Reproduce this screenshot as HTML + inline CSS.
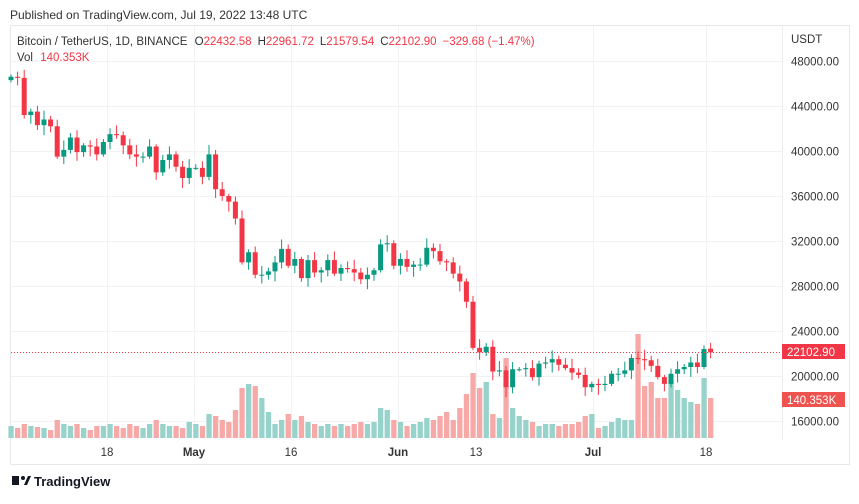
<!DOCTYPE html>
<html><head><meta charset="utf-8"><style>
body{margin:0;background:#fff;width:859px;height:499px;overflow:hidden;font-family:"Liberation Sans",sans-serif}
</style></head><body>
<svg id="s" width="859" height="499" xmlns="http://www.w3.org/2000/svg" font-family="Liberation Sans, sans-serif">
<text x="10" y="19" font-size="12" fill="#333">Published on TradingView.com, Jul 19, 2022 13:48 UTC</text>
<rect x="10.5" y="25.5" width="839" height="439" fill="none" stroke="#e8e8ec"/>
<line x1="782.5" y1="26" x2="782.5" y2="440" stroke="#ececec"/>
<g id="grid"></g>
<g id="vol"></g>
<g id="cdl"></g>
<line x1="11" y1="352.5" x2="782" y2="352.5" stroke="#f23645" stroke-dasharray="1,2" stroke-width="1"/>
<text x="17" y="45" font-size="11.5" fill="#333">Bitcoin / TetherUS, 1D, BINANCE <tspan dx="4">O</tspan><tspan fill="#f23645">22432.58</tspan><tspan dx="6">H</tspan><tspan fill="#f23645">22961.72</tspan><tspan dx="6">L</tspan><tspan fill="#f23645">21579.54</tspan><tspan dx="6">C</tspan><tspan fill="#f23645">22102.90</tspan><tspan dx="6" fill="#f23645">−329.68 (−1.47%)</tspan></text>
<text x="17" y="61" font-size="11.5" fill="#333">Vol <tspan dx="4" fill="#f23645">140.353K</tspan></text>
<text x="791" y="43" font-size="11.5" fill="#333">USDT</text>
<g id="ax" font-size="11.5" fill="#333"></g>
<rect x="782" y="344" width="63" height="15" fill="#f23645"/>
<text x="787" y="356" font-size="11.5" fill="#fff">22102.90</text>
<rect x="782" y="392" width="63" height="15" fill="#ef5350"/>
<text x="787" y="404" font-size="11.5" fill="#fff">140.353K</text>
<g font-size="11.5" fill="#333">
<text x="107" y="456" text-anchor="middle">18</text>
<text x="194" y="456" text-anchor="middle" font-weight="bold">May</text>
<text x="291" y="456" text-anchor="middle">16</text>
<text x="398" y="456" text-anchor="middle" font-weight="bold">Jun</text>
<text x="476" y="456" text-anchor="middle">13</text>
<text x="593" y="456" text-anchor="middle" font-weight="bold">Jul</text>
<text x="706" y="456" text-anchor="middle">18</text>
</g>
<g transform="translate(12,474)"><rect x="0" y="2" width="7" height="9" fill="#131722"/><circle cx="11" cy="4" r="2" fill="#131722"/><path d="M12 11 L16 2 L19 2 L15 11Z" fill="#131722"/></g>
<text x="34" y="486" font-size="13" fill="#131722" font-weight="bold">TradingView</text>
</svg>
<script>
var closes=[46600,46500,43200,43500,42300,42800,42200,39500,40100,41200,39900,40500,40400,39700,40800,41500,41400,40500,39700,39500,39500,40400,38100,39200,39700,38600,37600,
38500,38500,37700,39700,36600,36000,35500,34000,30100,31000,29000,29000,29300,30100,31300,29800,30400,28700,30300,29200,29400,30300,29100,29600,29500,29200,28600,29000,29400,31700,31800,
29800,30400,29700,29900,29900,31400,31100,30200,30100,29100,28400,26600,22500,22100,22600,20400,20500,19000,20600,20600,20700,19900,21100,21200,21500,21000,20700,20300,20100,19000,
19300,19200,19300,20200,20200,20500,21600,21500,21400,20900,19900,19300,20200,20600,20800,21200,20800,22400,22102];
var vh=[12,10,14,12,11,10,8,18,14,12,14,10,8,12,12,14,12,10,14,12,10,14,18,14,12,12,10,
16,14,12,24,22,18,16,28,50,54,52,40,26,14,18,24,18,22,16,14,12,14,12,14,12,14,16,14,16,30,28,
18,16,12,14,16,20,18,22,26,18,30,44,65,50,56,24,20,80,30,22,18,16,12,14,14,12,14,14,16,22,24,
10,12,16,20,18,18,104,52,56,40,40,57,48,40,36,34,60,40];
var S=document.getElementById('s'),ns='http://www.w3.org/2000/svg';
function el(p,t,a){var e=document.createElementNS(ns,t);for(var k in a)e.setAttribute(k,a[k]);document.getElementById(p).appendChild(e);return e;}
function Y(p){return 61+(48000-p)*0.01125;}
for(var p=16000;p<=48000;p+=4000){var y=Math.round(Y(p))+.5;el('grid','line',{x1:11,x2:782,y1:y,y2:y,stroke:'#f2f2f4'});var t=el('ax','text',{x:791,y:y+4});t.textContent=p+'.00';}
[107,194,291,398,476,593,706].forEach(function(x){el('grid','line',{x1:x+.5,x2:x+.5,y1:26,y2:440,stroke:'#f2f2f4'});});
var prev=46300;
for(var i=0;i<closes.length;i++){
 var o=(i==closes.length-1)?22432:prev,c=closes[i],x=11+i*6.6;
 var up=c>=o,col=up?'#089981':'#f23645';
 var r=((i*37)%11)/11;
 var h=Math.max(o,c)+200+r*700,l=Math.min(o,c)-200-((i*53)%7)/7*800;
 if(i==closes.length-1){h=22961;l=21579;}
 el('cdl','line',{x1:x,x2:x,y1:Y(h),y2:Y(l),stroke:col,'stroke-width':1});
 var yt=Y(Math.max(o,c)),yb=Y(Math.min(o,c));if(yb-yt<1)yb=yt+1;
 el('cdl','rect',{x:x-2.5,y:yt,width:5,height:yb-yt,fill:col});
 var v=vh[i]||14;
 el('vol','rect',{x:x-2.6,y:438-v,width:5.3,height:v,fill:up?'#97d3ca':'#f7a9a7'});
 prev=c;
}
</script>
</body></html>
